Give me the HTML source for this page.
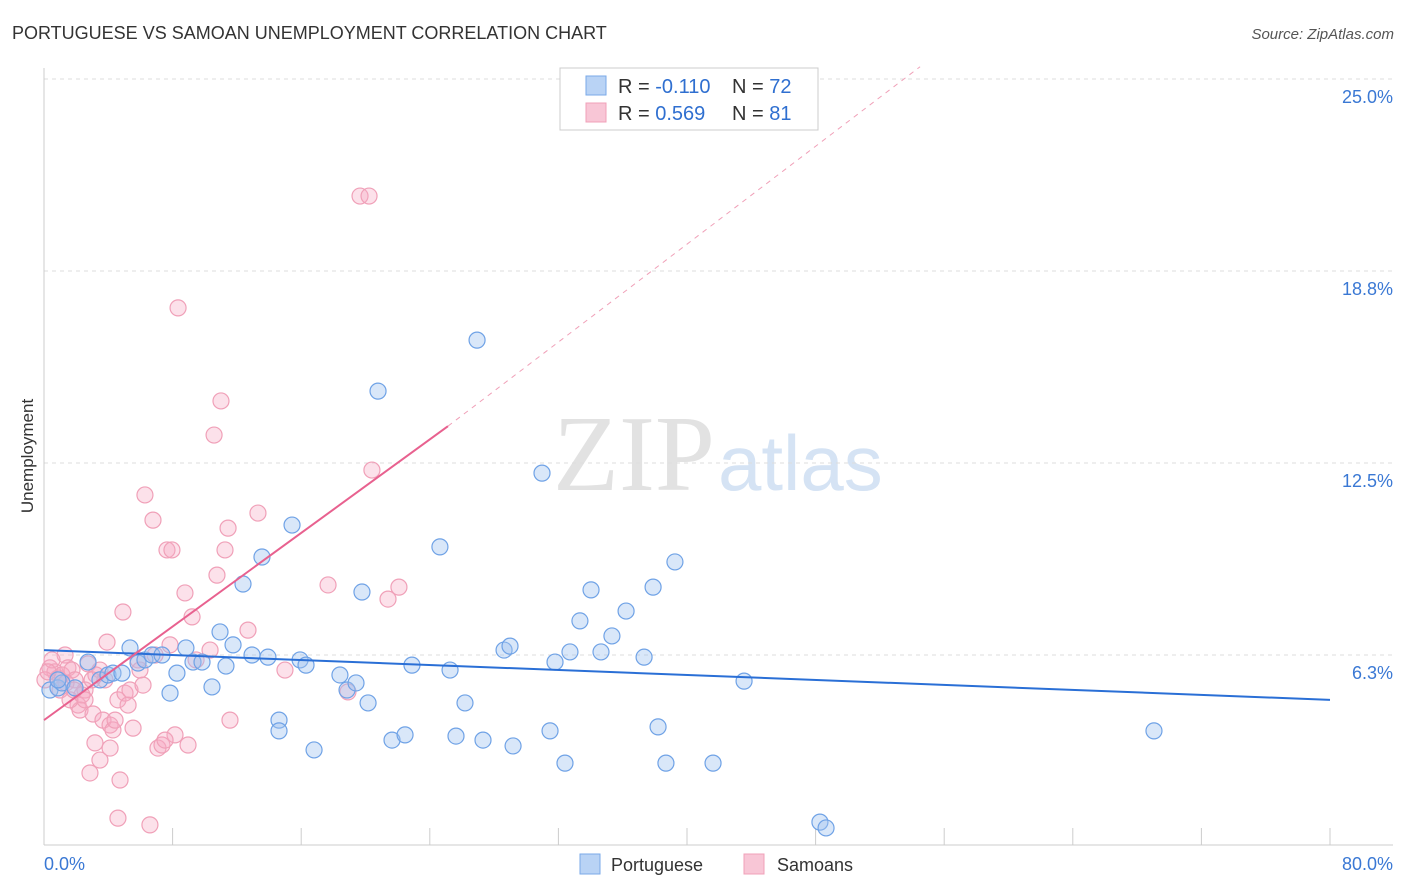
<!DOCTYPE html>
<html><head><meta charset="utf-8"><style>
body{margin:0;background:#fff;font-family:"Liberation Sans",sans-serif;}
#c{position:relative;width:1406px;height:892px;overflow:hidden;}
</style></head><body>
<div id="c">
<svg id="s" width="1406" height="892" xmlns="http://www.w3.org/2000/svg">
<text x="12" y="39" font-size="18" fill="#333">PORTUGUESE VS SAMOAN UNEMPLOYMENT CORRELATION CHART</text>
<text x="1394" y="39" font-size="15" fill="#555" text-anchor="end" font-style="italic">Source: ZipAtlas.com</text>
<text x="33" y="456" font-size="17" fill="#333" text-anchor="middle" transform="rotate(-90 33 456)">Unemployment</text>
<g>
<text x="553" y="490" font-size="108" fill="#e2e2e2" font-family="Liberation Serif,serif">ZIP</text>
<text x="718" y="490" font-size="78" fill="#d5e3f4">atlas</text>
</g>
<g id="grid"></g>
<g id="axes"></g>
<g id="marks"></g>
<g>
<rect x="560" y="68" width="258" height="62" fill="#fff" stroke="#ccc"/>
<rect x="586" y="76" width="20" height="19" fill="#b9d3f5" stroke="#7aaae8"/>
<rect x="586" y="103" width="20" height="19" fill="#f8c6d6" stroke="#f0a0b8"/>
<text x="618" y="93" font-size="20" fill="#333">R = <tspan fill="#2f6fd0">-0.110</tspan></text>
<text x="732" y="93" font-size="20" fill="#333">N = <tspan fill="#2f6fd0">72</tspan></text>
<text x="618" y="120" font-size="20" fill="#333">R =  <tspan fill="#2f6fd0">0.569</tspan></text>
<text x="732" y="120" font-size="20" fill="#333">N =  <tspan fill="#2f6fd0">81</tspan></text>
</g>
<g>
<rect x="580" y="854" width="20" height="20" fill="#b9d3f5" stroke="#7aaae8"/>
<text x="611" y="871" font-size="18" fill="#333">Portuguese</text>
<rect x="744" y="854" width="20" height="20" fill="#f8c6d6" stroke="#f0a0b8"/>
<text x="777" y="871" font-size="18" fill="#333">Samoans</text>
</g>
</svg>
</div>
<script>
const yTicks=[25,18.75,12.5,6.25];
const yTickLabels=["25.0%","18.8%","12.5%","6.3%"];
const xTickLabels=["0.0%","80.0%"];
const portX=[0.37,0.87,1.12,1.93,2.74,3.48,3.98,4.29,4.85,5.35,5.85,6.28,6.72,7.34,7.84,8.27,8.83,9.27,9.83,10.45,10.95,11.32,11.76,12.38,12.94,13.56,13.93,14.62,14.62,15.43,15.93,16.30,16.80,18.41,18.85,19.41,20.16,20.78,19.78,21.65,22.46,22.89,24.63,25.26,25.63,26.19,26.94,27.31,28.62,28.99,29.18,30.98,31.48,31.79,32.41,32.72,33.34,34.03,34.65,35.33,36.21,37.33,37.89,38.20,38.69,39.25,41.62,43.55,48.27,48.65,69.05,0.87];
const portY=[5.11,5.18,5.34,5.18,6.02,5.44,5.60,5.66,5.66,6.48,5.99,6.09,6.25,6.25,5.01,5.66,6.48,6.02,6.02,5.21,7.00,5.89,6.58,8.56,6.25,9.44,6.18,4.13,3.78,10.48,6.09,5.92,3.16,5.60,5.11,5.34,4.69,14.84,8.30,3.48,3.65,5.92,9.77,5.76,3.61,4.69,16.50,3.48,6.41,6.54,3.29,12.17,3.78,6.02,2.73,6.35,7.36,8.37,6.35,6.87,7.68,6.18,8.46,3.91,2.73,9.28,2.73,5.40,0.81,0.62,3.78,5.44];
const samX=[0.37,0.68,0.87,1.12,1.31,1.49,1.74,1.93,2.12,2.24,2.55,2.74,2.86,3.05,3.17,3.48,3.48,3.67,3.92,4.11,4.29,4.42,4.60,4.73,4.91,5.04,5.23,5.35,5.54,5.85,6.16,6.28,6.59,6.78,6.91,7.09,7.34,7.65,7.84,7.96,8.15,8.34,8.77,8.96,9.21,9.46,10.33,10.58,10.76,11.01,11.26,11.45,11.57,12.69,13.31,14.99,17.67,18.91,19.66,20.22,20.40,21.40,22.08,4.60,1.00,1.62,0.50,1.37,2.36,3.23,3.79,5.97,7.53,0.06,0.25,2.55,4.11,2.99,1.87];
const samY=[5.83,5.70,5.50,5.60,6.25,5.83,5.76,5.44,4.62,4.46,5.11,5.96,2.41,4.33,3.39,5.76,2.83,4.13,6.67,3.97,3.81,4.13,4.79,2.18,7.65,5.01,4.62,5.11,3.87,6.09,5.27,11.46,0.72,10.64,6.25,3.22,3.32,9.67,6.58,9.67,3.65,17.55,8.27,3.32,7.49,6.09,6.41,13.41,8.85,14.52,9.67,10.38,4.13,7.06,10.87,5.76,8.53,5.05,21.19,21.19,12.27,8.07,8.46,0.94,5.11,4.79,6.09,5.34,4.95,5.60,5.44,5.76,3.48,5.44,5.70,4.79,3.22,5.44,5.11];
const portTrend=[[0,6.41],[80,4.79]];
const samTrend=[[0,4.13],[25.13,13.70]];
const samTrendExt=[[25.13,13.70],[54.5,25.4]];

const X0=44,X1=1330,Y0=847,PPY=30.72;
function sx(v){return X0+(X1-X0)*v/80;}
function sy(v){return Y0-v*PPY;}
const NS="http://www.w3.org/2000/svg";
function mk(tag,attrs,parent){const e=document.createElementNS(NS,tag);for(const k in attrs)e.setAttribute(k,attrs[k]);parent.appendChild(e);return e;}
const grid=document.getElementById('grid'),axes=document.getElementById('axes'),marks=document.getElementById('marks');
yTicks.forEach((t,i)=>{
  const l=mk('line',{x1:X0,x2:1392,y1:sy(t),y2:sy(t),stroke:'#ddd','stroke-dasharray':'4,4'},grid);
  
  
  const tx=mk('text',{x:1393,y:sy(t)+24,'font-size':18,fill:'#3a78d4','text-anchor':'end'},grid);
  tx.textContent=yTickLabels[i];
  
  
});
const ax=mk('line',{x1:X0,x2:X0,y1:68,y2:845,stroke:'#ccc'},axes);


const bx=mk('line',{x1:X0,x2:1393,y1:845,y2:845,stroke:'#ccc'},axes);


for(let i=0;i<=10;i++){
  const t=mk('line',{x1:sx(i*8),x2:sx(i*8),y1:828,y2:845,stroke:'#ccc'},axes);
  
  
}
const xl0=mk('text',{x:44,y:870,'font-size':18,fill:'#3a78d4'},axes);
xl0.textContent=xTickLabels[0];


const xl1=mk('text',{x:1393,y:870,'font-size':18,fill:'#3a78d4','text-anchor':'end'},axes);
xl1.textContent=xTickLabels[1];



samX.forEach((v,i)=>{
  const c=mk('circle',{cx:sx(v),cy:sy(samY[i]),r:8,fill:'rgba(245,170,195,0.35)',stroke:'#f0a0b8','stroke-width':1.2},marks);
  
  
});
portX.forEach((v,i)=>{
  const c=mk('circle',{cx:sx(v),cy:sy(portY[i]),r:8,fill:'rgba(160,195,240,0.4)',stroke:'#6fa2e6','stroke-width':1.2},marks);
  
  
});
const pl=mk('line',{x1:sx(portTrend[0][0]),y1:sy(portTrend[0][1]),x2:sx(portTrend[1][0]),y2:sy(portTrend[1][1]),stroke:'#2a6fd6','stroke-width':2},marks);


const sl=mk('line',{x1:sx(samTrend[0][0]),y1:sy(samTrend[0][1]),x2:sx(samTrend[1][0]),y2:sy(samTrend[1][1]),stroke:'#e8618f','stroke-width':2},marks);


const se=mk('line',{x1:sx(samTrendExt[0][0]),y1:sy(samTrendExt[0][1]),x2:sx(samTrendExt[1][0]),y2:sy(samTrendExt[1][1]),stroke:'#f0a0b8','stroke-width':1,'stroke-dasharray':'5,5'},marks);


</script>
</body></html>
